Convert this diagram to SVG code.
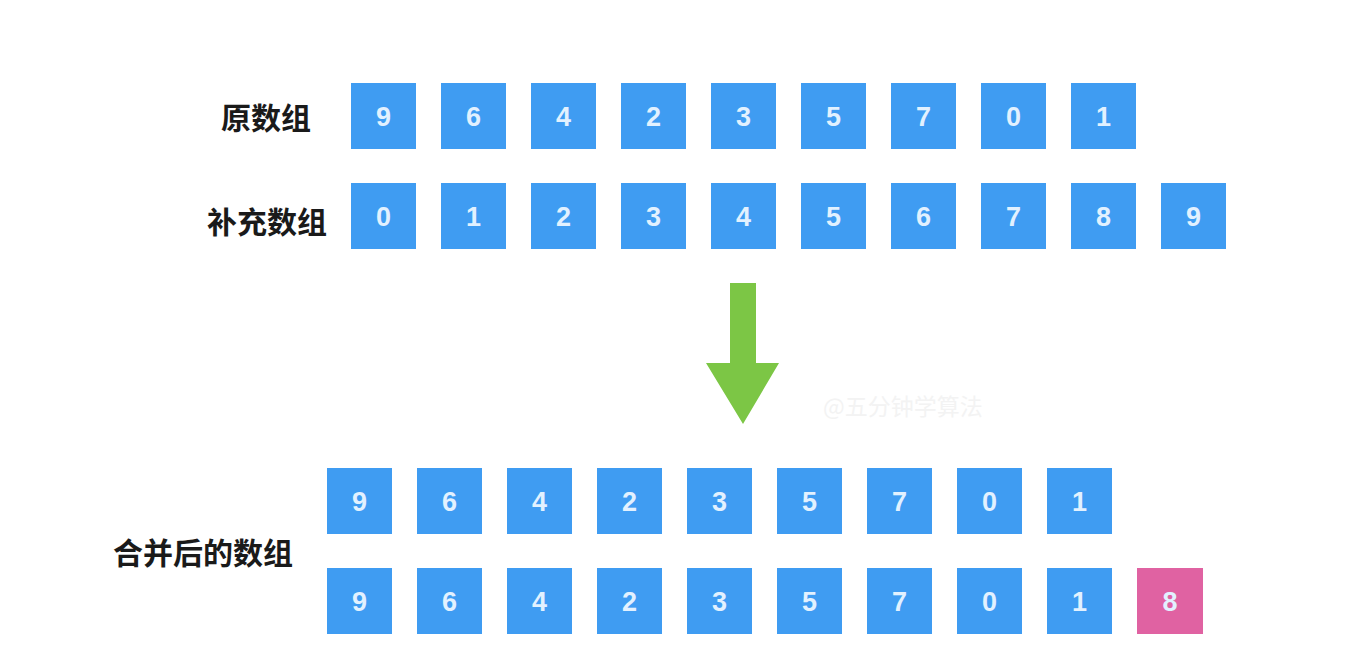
<svg xmlns="http://www.w3.org/2000/svg" width="1352" height="656" viewBox="0 0 1352 656">
<style>
.b{fill:#3f9cf2}
.p{fill:#e062a2}
.n{font-family:"Liberation Sans",Arial,sans-serif;font-size:27px;font-weight:bold;fill:#e2f1ff;text-anchor:middle;dominant-baseline:central}
.l{font-family:"Noto Sans CJK SC","Noto Sans",sans-serif;font-size:30px;font-weight:bold;fill:#1a1a1a;text-anchor:middle;dominant-baseline:central}
.w{font-family:"Noto Sans CJK SC",sans-serif;font-size:23px;fill:#f3f3f3;dominant-baseline:central}
</style>
<rect width="1352" height="656" fill="#ffffff"/>
<g id="labels">
<text class="l" x="266" y="116">原数组</text>
<text class="l" x="267" y="220">补充数组</text>
<text class="l" x="203" y="551">合并后的数组</text>
</g>
<g id="row-original">
<g id="o0"><rect class="b" x="351" y="83" width="65" height="66"/><text class="n" x="383.5" y="117">9</text></g>
<g id="o1"><rect class="b" x="441" y="83" width="65" height="66"/><text class="n" x="473.5" y="117">6</text></g>
<g id="o2"><rect class="b" x="531" y="83" width="65" height="66"/><text class="n" x="563.5" y="117">4</text></g>
<g id="o3"><rect class="b" x="621" y="83" width="65" height="66"/><text class="n" x="653.5" y="117">2</text></g>
<g id="o4"><rect class="b" x="711" y="83" width="65" height="66"/><text class="n" x="743.5" y="117">3</text></g>
<g id="o5"><rect class="b" x="801" y="83" width="65" height="66"/><text class="n" x="833.5" y="117">5</text></g>
<g id="o6"><rect class="b" x="891" y="83" width="65" height="66"/><text class="n" x="923.5" y="117">7</text></g>
<g id="o7"><rect class="b" x="981" y="83" width="65" height="66"/><text class="n" x="1013.5" y="117">0</text></g>
<g id="o8"><rect class="b" x="1071" y="83" width="65" height="66"/><text class="n" x="1103.5" y="117">1</text></g>
</g>
<g id="row-supplement">
<g id="s0"><rect class="b" x="351" y="183" width="65" height="66"/><text class="n" x="383.5" y="217">0</text></g>
<g id="s1"><rect class="b" x="441" y="183" width="65" height="66"/><text class="n" x="473.5" y="217">1</text></g>
<g id="s2"><rect class="b" x="531" y="183" width="65" height="66"/><text class="n" x="563.5" y="217">2</text></g>
<g id="s3"><rect class="b" x="621" y="183" width="65" height="66"/><text class="n" x="653.5" y="217">3</text></g>
<g id="s4"><rect class="b" x="711" y="183" width="65" height="66"/><text class="n" x="743.5" y="217">4</text></g>
<g id="s5"><rect class="b" x="801" y="183" width="65" height="66"/><text class="n" x="833.5" y="217">5</text></g>
<g id="s6"><rect class="b" x="891" y="183" width="65" height="66"/><text class="n" x="923.5" y="217">6</text></g>
<g id="s7"><rect class="b" x="981" y="183" width="65" height="66"/><text class="n" x="1013.5" y="217">7</text></g>
<g id="s8"><rect class="b" x="1071" y="183" width="65" height="66"/><text class="n" x="1103.5" y="217">8</text></g>
<g id="s9"><rect class="b" x="1161" y="183" width="65" height="66"/><text class="n" x="1193.5" y="217">9</text></g>
</g>
<g id="connectors">
<polygon points="730,283 756,283 756,363 779,363 743,424 706,363 730,363" fill="#7cc645"/>
</g>
<text class="w" x="823" y="405">@五分钟学算法</text>
<g id="row-merged-1">
<g id="m0"><rect class="b" x="327" y="468" width="65" height="66"/><text class="n" x="359.5" y="502">9</text></g>
<g id="m1"><rect class="b" x="417" y="468" width="65" height="66"/><text class="n" x="449.5" y="502">6</text></g>
<g id="m2"><rect class="b" x="507" y="468" width="65" height="66"/><text class="n" x="539.5" y="502">4</text></g>
<g id="m3"><rect class="b" x="597" y="468" width="65" height="66"/><text class="n" x="629.5" y="502">2</text></g>
<g id="m4"><rect class="b" x="687" y="468" width="65" height="66"/><text class="n" x="719.5" y="502">3</text></g>
<g id="m5"><rect class="b" x="777" y="468" width="65" height="66"/><text class="n" x="809.5" y="502">5</text></g>
<g id="m6"><rect class="b" x="867" y="468" width="65" height="66"/><text class="n" x="899.5" y="502">7</text></g>
<g id="m7"><rect class="b" x="957" y="468" width="65" height="66"/><text class="n" x="989.5" y="502">0</text></g>
<g id="m8"><rect class="b" x="1047" y="468" width="65" height="66"/><text class="n" x="1079.5" y="502">1</text></g>
</g>
<g id="row-merged-2">
<g id="k0"><rect class="b" x="327" y="568" width="65" height="66"/><text class="n" x="359.5" y="602">9</text></g>
<g id="k1"><rect class="b" x="417" y="568" width="65" height="66"/><text class="n" x="449.5" y="602">6</text></g>
<g id="k2"><rect class="b" x="507" y="568" width="65" height="66"/><text class="n" x="539.5" y="602">4</text></g>
<g id="k3"><rect class="b" x="597" y="568" width="65" height="66"/><text class="n" x="629.5" y="602">2</text></g>
<g id="k4"><rect class="b" x="687" y="568" width="65" height="66"/><text class="n" x="719.5" y="602">3</text></g>
<g id="k5"><rect class="b" x="777" y="568" width="65" height="66"/><text class="n" x="809.5" y="602">5</text></g>
<g id="k6"><rect class="b" x="867" y="568" width="65" height="66"/><text class="n" x="899.5" y="602">7</text></g>
<g id="k7"><rect class="b" x="957" y="568" width="65" height="66"/><text class="n" x="989.5" y="602">0</text></g>
<g id="k8"><rect class="b" x="1047" y="568" width="65" height="66"/><text class="n" x="1079.5" y="602">1</text></g>
<g id="k9"><rect class="p" x="1137" y="568" width="66" height="66"/><text class="n" x="1170" y="602">8</text></g>
</g>
</svg>
